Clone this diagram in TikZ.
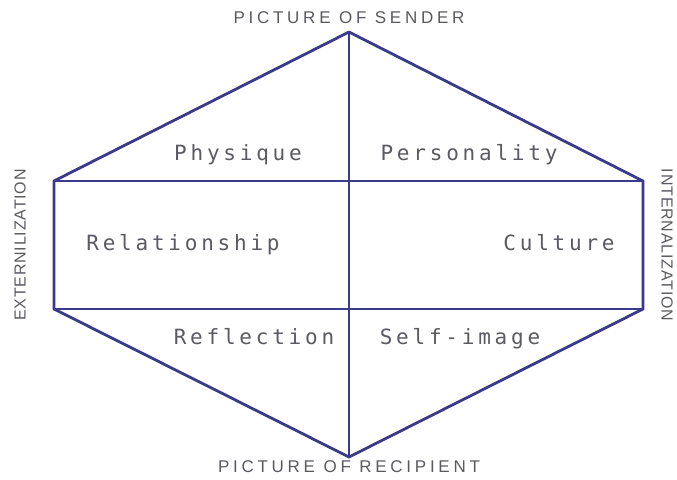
\documentclass[tikz,border=0pt]{standalone}
\usepackage{fontspec}
\setmainfont{Liberation Sans}
\newfontfamily\monof[LetterSpace=18]{DejaVu Sans Mono}
\newfontfamily\capsf[LetterSpace=22]{Liberation Sans}
\newfontfamily\sidef[LetterSpace=5]{Liberation Sans}
\definecolor{lineblue}{HTML}{3A3A8A}
\definecolor{txtgray}{HTML}{5A5A62}
\begin{document}
\begin{tikzpicture}[x=1pt,y=-1pt,
  edge/.style={draw=lineblue,line width=2.8pt,line cap=round,line join=round},
  cell/.style={text=txtgray,font=\monof\fontsize{21}{21}\selectfont,inner sep=0pt,anchor=base},
  axis/.style={text=txtgray,font=\capsf\fontsize{17}{17}\selectfont,inner sep=0pt},
  side/.style={text=txtgray,font=\sidef\fontsize{16}{16}\selectfont,inner sep=0pt}]
\useasboundingbox (0,0) rectangle (677,479);
\coordinate (T) at (349,32);
\coordinate (B) at (349,457);
\coordinate (TL) at (54,181);
\coordinate (TR) at (643,181);
\coordinate (BL) at (54,309);
\coordinate (BR) at (643,309);
\coordinate (TM) at (349,181);
\coordinate (BM) at (349,309);
\draw[edge] (T) -- (TR) -- (BR) -- (B) -- (BL) -- (TL) -- cycle;
\draw[edge] (TL) -- (TR);
\draw[edge] (BL) -- (BR);
\draw[edge] (T) -- (B);
\node[cell] (phys) at (238,160) {Physique};
\node[cell] (pers) at (469,160) {Personality};
\node[cell] (rel) at (183,250) {Relationship};
\node[cell] (cul) at (559,250) {Culture};
\node[cell] (refl) at (254,344) {Reflection};
\node[cell] (self) at (460,344) {Self-image};
\node[axis] (sender) at (349,18) {PICTURE OF SENDER};
\node[axis] (recip) at (349,467) {PICTURE OF RECIPIENT};
\node[side,rotate=90] (ext) at (20,245) {EXTERNILIZATION};
\node[side,rotate=-90] (int) at (667,245) {INTERNALIZATION};
\end{tikzpicture}
\end{document}
